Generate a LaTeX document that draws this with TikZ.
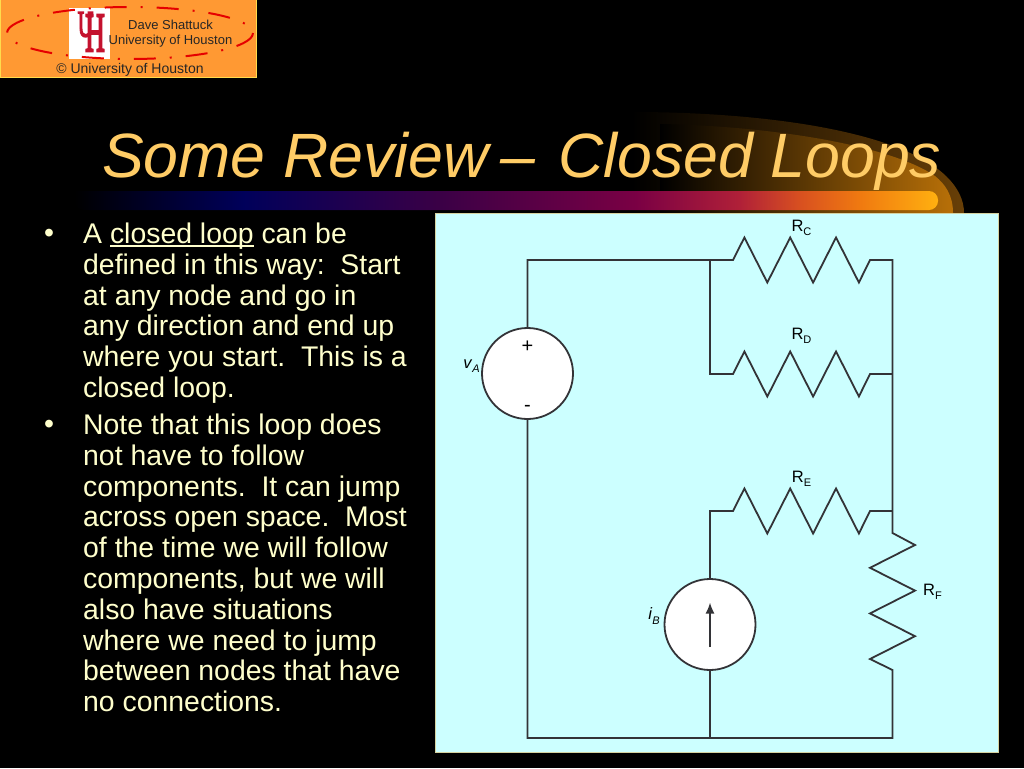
\documentclass[tikz,border=0pt]{standalone}
\usepackage{fontspec}
\setmainfont{Liberation Sans}
\newfontfamily\logofont[FakeBold=4]{Liberation Serif}
\usetikzlibrary{positioning,arrows.meta}
\definecolor{titlegold}{HTML}{FFCC66}
\definecolor{bodycream}{HTML}{FFFFCC}
\definecolor{panelcyan}{HTML}{CCFFFF}
\definecolor{logoorange}{HTML}{FF9933}
\definecolor{logored}{HTML}{C4122E}
\definecolor{glowdark}{HTML}{7A4A08}
\definecolor{glowlight}{HTML}{B87008}
\definecolor{barnavy}{HTML}{00005A}
\definecolor{barpurple}{HTML}{3A0046}
\definecolor{barmaroon}{HTML}{7A0044}
\definecolor{barcrim}{HTML}{B02038}
\definecolor{barrust}{HTML}{D85020}
\definecolor{barorange}{HTML}{F07A10}
\definecolor{baramber}{HTML}{FFB010}
\pgfdeclarehorizontalshading{barglow}{100bp}{
  color(0bp)=(black);
  color(25bp)=(black);
  color(34.75bp)=(barnavy);
  color(46bp)=(barpurple);
  color(57.5bp)=(barmaroon);
  color(63.5bp)=(barcrim);
  color(67bp)=(barrust);
  color(70.5bp)=(barorange);
  color(75bp)=(baramber);
  color(100bp)=(baramber)}
\newcommand{\zigH}{-- ++(11.4,-22.5) -- ++(22.9,45) -- ++(22.9,-45) -- ++(22.9,45) -- ++(22.9,-45) -- ++(22.9,45)}
\newcommand{\zigV}{-- ++(22.5,12) -- ++(-45,22.8) -- ++(45,22.8) -- ++(-45,22.8) -- ++(45,22.8) -- ++(-45,22.8)}
\newcommand{\rname}[1]{R\raisebox{-0.28em}{\fontsize{11}{11}\selectfont #1}}
\newcommand{\sname}[2]{\textit{#1}\raisebox{-0.28em}{\fontsize{11}{11}\selectfont\textit{#2}}}
\newcommand{\ulword}[1]{\setbox0\hbox{#1}\rlap{\rule[-3.4pt]{\wd0}{1.5pt}}#1}
\begin{document}
\begin{tikzpicture}[x=1pt,y=-1pt,
    wire/.style={line width=1.8pt,draw=black!90!cyan,line join=miter},
    srcnode/.style={circle,draw=black!90!cyan,line width=1.8pt,fill=white,minimum size=91pt,inner sep=0pt},
    partlabel/.style={font=\fontsize{16.5}{16.5}\selectfont,text=black,inner sep=0pt},
    bodytext/.style={anchor=north west,align=left,inner sep=0pt,text=bodycream,font=\fontsize{28.4}{30.8}\selectfont},
    logotext/.style={font=\fontsize{13}{13}\selectfont,text=black!85,inner sep=0pt}]
    \fill[black] (0,0) rectangle (1024,768);
    \useasboundingbox (0,0) rectangle (1024,768);

    % glow behind the title
    \shade[left color=black,right color=glowdark!85!black]
        (632,213) -- (632,112) .. controls (760,112) and (900,130) .. (947,177)
        .. controls (958,188) and (964,200) .. (964,213) -- cycle;
    \shade[left color=black,right color=glowlight]
        (660,213) -- (660,124) .. controls (770,126) and (890,145) .. (935,176)
        .. controls (945,184) and (953,195) .. (953,213) -- cycle;
    \shade[shading=barglow,rounded corners=9pt] (75,191) -- (938,191) -- (938,210) -- (75,210) [sharp corners] -- cycle;

    \node[anchor=base west,inner sep=0pt,text=titlegold,font=\fontsize{62.6}{62.6}\selectfont\itshape] (title) at (102,177) {Some Review\kern-5pt{} --\kern5.5pt{} Closed Loops};

    % logo
    \fill[logoorange,draw=orange!40!yellow!70!white,line width=1pt] (0,0) rectangle (256,77);
    \fill[white] (69,8) rectangle (110,59);
    \node[logored,font=\logofont\fontsize{30}{30}\selectfont,inner sep=0pt,xscale=.72,yscale=1.25] (logou) at (85.5,24.5) {U};
    \node[logored,font=\logofont\fontsize{40}{40}\selectfont,inner sep=0pt,xscale=.68,yscale=1.4] (logoh) at (95,33) {H};
    \draw[red!90!black,line width=2pt,dash pattern=on 22pt off 14pt on 2pt off 14pt] (130,33) ellipse (123 and 26);
    \node[logotext] (logoa) at (170.5,25) {Dave Shattuck};
    \node[logotext,below=5pt of logoa] (logob) {University of Houston};
    \node[logotext,font=\fontsize{14}{14}\selectfont] (logoc) at (130,69.5) {© University of Houston};

    % text
    \node[bodytext,anchor=base west] (dot1) at (44,242.5) {•};
    \node[bodytext] (para1) at (83,222.7) {A \ulword{closed loop} can be\\defined in this way:\ \ Start\\at any node and go in\\any direction and end up\\where you start.\ \ This is a\\closed loop.};
    \node[bodytext,anchor=base west] (dot2) at (44,433.5) {•};
    \node[bodytext] (para2) at (83,413.7) {Note that this loop does\\not have to follow\\components.\ \ It can jump\\across open space.\ \ Most\\of the time we will follow\\components, but we will\\also have situations\\where we need to jump\\between nodes that have\\no connections.};

    % circuit
    \fill[panelcyan,draw=black!25!white!75!yellow,line width=1pt] (435,213) rectangle (998,752);

    \node[srcnode] (srcA) at (527.5,373.5) {};
    \node[srcnode] (srcB) at (710,624.5) {};
    \coordinate (tl) at (527.5,260);
    \coordinate (bl) at (527.5,738);
    \coordinate (jc) at (710,260);
    \coordinate (jd) at (710,374);
    \coordinate (je) at (710,511);
    \coordinate (jb) at (710,738);
    \coordinate (rcL) at (733,260);
    \coordinate (rcR) at (870,260);
    \coordinate (rdL) at (733,374);
    \coordinate (rdR) at (870,374);
    \coordinate (reL) at (733,511);
    \coordinate (reR) at (870,511);
    \coordinate (tr) at (892.5,260);
    \coordinate (mr) at (892.5,374);
    \coordinate (er) at (892.5,511);
    \coordinate (rfT) at (892.5,533);
    \coordinate (rfB) at (892.5,670);
    \coordinate (br) at (892.5,738);

    \draw[wire] (srcA) -- (tl) -- (jc) -- (rcL) \zigH -- (rcR) -- (tr) -- (mr) -- (er) -- (rfT) \zigV -- (rfB) -- (br) -- (jb) -- (bl) -- (srcA);
    \draw[wire] (jc) -- (jd) -- (rdL) \zigH -- (rdR) -- (mr);
    \draw[wire] (srcB) -- (je) -- (reL) \zigH -- (reR) -- (er);
    \draw[wire] (srcB) -- (jb);

    \coordinate (arrowS) at (710,647);
    \coordinate (arrowE) at (710,602.5);
    \draw[wire,-{Latex[length=11pt,width=9pt]}] (arrowS) -- (arrowE);

    \node[font=\fontsize{20}{20}\selectfont,inner sep=0pt] (plus) at (527.5,347) {+};
    \node[font=\fontsize{20}{20}\selectfont,inner sep=0pt] (minus) at (527.5,408.5) {-};
    \node[partlabel] (va) at (471.5,366) {\sname{v}{A}};
    \node[partlabel] (ib) at (654,616) {\sname{i}{B}};
    \node[partlabel] (rc) at (801.5,228) {\rname{C}};
    \node[partlabel] (rd) at (801.5,336) {\rname{D}};
    \node[partlabel] (re) at (801.5,479) {\rname{E}};
    \node[partlabel] (rf) at (932.5,592) {\rname{F}};
\end{tikzpicture}
\end{document}
